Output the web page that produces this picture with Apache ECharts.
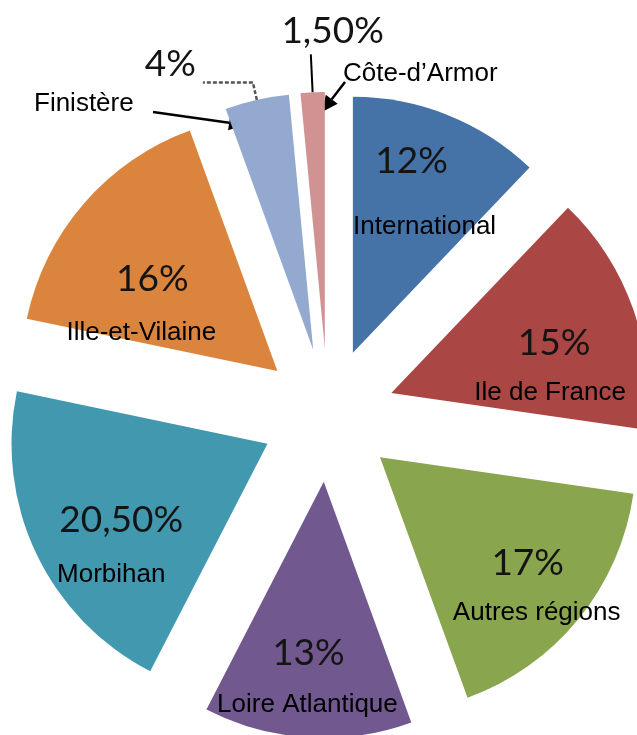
<!DOCTYPE html>
<html>
<head>
<meta charset="UTF-8">
<script src="https://cdn.jsdelivr.net/npm/echarts@6/dist/echarts.min.js"></script>
</head>
<body style="margin:0">
<div id="main" style="width:637px;height:735px;"></div>
<script>
var categories = ['International', 'Ile de France', 'Autres régions', 'Loire Atlantique',
                  'Morbihan', 'Ille-et-Vilaine', 'Finistère', 'Côte-d\u2019Armor'];
var values = [12, 15, 17, 13, 20.5, 16, 4, 1.5];
var colors = ['#4572A7', '#AA4643', '#89A54E', '#71588F', '#4198AF', '#DB843D', '#93A9CF', '#D19392'];

// small nudges for the labels (px)
var pctShift  = [[10, -70], [39, -7], [46, 23], [-7, 40], [-28, 20], [-26, -6], [-2, -18], [78, -23]];
var nameShift = [[23, -4], [35, 43], [55, 73], [-8, 92], [-38, 75], [-37, 47], [0, 0], [0, 0]];

function fmt(v) {
    return (v % 1 === 0 ? String(v) : v.toFixed(2).replace('.', ',')) + '%';
}

function arrow(x1, y1, x2, y2) {
    var dx = x2 - x1, dy = y2 - y1, L = Math.sqrt(dx * dx + dy * dy);
    var ux = dx / L, uy = dy / L, h = 16, w = 7.5;
    var bx = x2 - ux * h, by = y2 - uy * h;
    return [
        { type: 'line', shape: { x1: x1, y1: y1, x2: bx, y2: by }, style: { stroke: '#000', lineWidth: 2.5 } },
        { type: 'polygon', shape: { points: [[x2, y2], [bx - uy * w, by + ux * w], [bx + uy * w, by - ux * w]] }, style: { fill: '#000' } }
    ];
}

var myChart = echarts.init(document.getElementById('main'));

var base = {
    type: 'pie',
    center: [328, 415],
    radius: [0, 256],
    startAngle: 90,
    clockwise: true,
    selectedMode: 'multiple',
    selectedOffset: 67,
    avoidLabelOverlap: false,
    emphasis: { disabled: true },
    labelLine: { show: false }
};

var pctSeries = Object.assign({}, base, {
    name: 'pct',
    itemStyle: { borderWidth: 0 },
    label: {
        show: true,
        position: 'inside',
        formatter: function (p) { return fmt(p.value); },
        fontFamily: 'Lato',
        fontSize: 37,
        color: '#141414'
    },
    labelLayout: function (p) {
        var s = pctShift[p.dataIndex];
        return { dx: s[0], dy: s[1] };
    },
    data: values.map(function (v, i) {
        var item = { name: categories[i], value: v, selected: true, itemStyle: { color: colors[i] } };
        if (i === 6) {
            item.label = { position: 'outside' };
            item.labelLine = { show: true, length: 18, length2: 50, lineStyle: { color: '#555', width: 2.5, type: [4, 2] } };
        }
        if (i === 7) {
            item.label = { position: 'outside' };
            item.labelLine = { show: true, length: 38, length2: 0, lineStyle: { color: '#000', width: 2 } };
        }
        return item;
    })
});

var nameSeries = Object.assign({}, base, {
    name: 'names',
    silent: true,
    z: 3,
    itemStyle: { color: 'rgba(0,0,0,0)', borderWidth: 0 },
    label: {
        show: true,
        position: 'inside',
        formatter: '{b}',
        fontFamily: 'Liberation Sans',
        fontSize: 26,
        color: '#000'
    },
    labelLayout: function (p) {
        var s = nameShift[p.dataIndex];
        return { dx: s[0], dy: s[1] };
    },
    data: values.map(function (v, i) {
        return { name: categories[i], value: v, selected: true, label: { show: i < 6 } };
    })
});

var graphics = [
    { type: 'text', style: { x: 34, y: 104, text: categories[6], font: '26px "Liberation Sans"', fill: '#000', verticalAlign: 'middle' } },
    { type: 'text', style: { x: 343, y: 74, text: categories[7], font: '26px "Liberation Sans"', fill: '#000', verticalAlign: 'middle' } }
].concat(arrow(153, 112, 245, 125), arrow(345, 82, 322, 112));

myChart.setOption({
    animation: false,
    series: [pctSeries, nameSeries],
    graphic: graphics
});
</script>
</body>
</html>
